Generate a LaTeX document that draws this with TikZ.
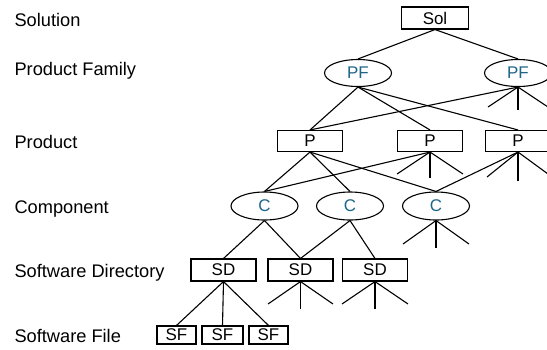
\documentclass[tikz,border=0pt]{standalone}
\usepackage{fontspec}
\setmainfont{Liberation Sans}
\usetikzlibrary{shapes.geometric}
\definecolor{pfblue}{RGB}{31,101,138}
\begin{document}
\begin{tikzpicture}[x=1bp,y=-1bp, line width=1.1bp,
  box/.style={draw, rectangle, minimum width=65bp, minimum height=22bp, inner sep=0pt, font=\fontsize{17}{19}\selectfont},
  ell/.style={draw, ellipse, minimum width=67bp, minimum height=27bp, inner sep=0pt, text=pfblue, font=\fontsize{17}{19}\selectfont},
  sfbox/.style={box, minimum width=40bp, minimum height=18bp},
  lbl/.style={anchor=base west, font=\fontsize{18.3}{20}\selectfont, inner sep=0pt}]
\fill[white] (0,0) rectangle (547,349);
\useasboundingbox (0,0) rectangle (547,349);
% level labels
\node[lbl] (l1) at (14,26) {Solution};
\node[lbl] (l2) at (14,75) {Product Family};
\node[lbl] (l3) at (14,148) {Product};
\node[lbl] (l4) at (14,213) {Component};
\node[lbl] (l5) at (14,277) {Software Directory};
\node[lbl] (l6) at (14,342) {Software File};
% nodes
\node[box, minimum width=67bp] (sol) at (435,18) {Sol};
\node[ell] (pf1) at (358,73) {PF};
\node[ell] (pf2) at (518,73) {PF};
\node[box, minimum height=21bp] (p1) at (310,141) {P};
\node[box, minimum height=21bp] (p2) at (430,141) {P};
\node[box, minimum height=21bp] (p3) at (518,141) {P};
\node[ell, minimum height=28bp] (c1) at (264.5,206) {C};
\node[ell, minimum height=28bp] (c2) at (350,206) {C};
\node[ell, minimum height=28bp] (c3) at (436,206) {C};
\node[box] (sd1) at (223.5,270) {SD};
\node[box] (sd2) at (300.5,270) {SD};
\node[box] (sd3) at (375,270) {SD};
\node[sfbox, minimum width=39bp] (sf1) at (176.5,335) {SF};
\node[sfbox, minimum width=41bp] (sf2) at (222.5,335) {SF};
\node[sfbox, minimum width=39bp] (sf3) at (268.5,335) {SF};
% stub ends
\coordinate (pf2a) at (488,107);
\coordinate (pf2b) at (518,110);
\coordinate (pf2c) at (548,107);
\coordinate (p2a) at (397,174);
\coordinate (p2b) at (430,178);
\coordinate (p2c) at (463,174);
\coordinate (p3a) at (487,177);
\coordinate (p3b) at (518,181);
\coordinate (p3c) at (548,174);
\coordinate (c3a) at (403,244);
\coordinate (c3b) at (436,248);
\coordinate (c3c) at (469,244);
\coordinate (sd2a) at (268,304);
\coordinate (sd2b) at (300.5,309);
\coordinate (sd2c) at (333,304);
\coordinate (sd3a) at (342,304);
\coordinate (sd3b) at (375,309);
\coordinate (sd3c) at (408,304);
% connectors
\draw (sol.south) -- (pf1.north);
\draw (sol.south) -- (pf2.north);
\draw (pf1.south) -- (p1.north);
\draw (pf1.south) -- (p2.north);
\draw (pf1.south) -- (p3.north);
\draw (pf2.south) -- (p1.north);
\draw (pf2.south) -- (pf2a);
\draw (pf2.south) -- (pf2b);
\draw (pf2.south) -- (pf2c);
\draw (p1.south) -- (c1.north);
\draw (p1.south) -- (c2.north);
\draw (p1.south) -- (c3.north);
\draw (p2.south) -- (c1.north);
\draw (p2.south) -- (p2a);
\draw (p2.south) -- (p2b);
\draw (p2.south) -- (p2c);
\draw (p3.south) -- (c3.north);
\draw (p3.south) -- (p3a);
\draw (p3.south) -- (p3b);
\draw (p3.south) -- (p3c);
\draw (c1.south) -- (sd1.north);
\draw (c1.south) -- (sd2.north);
\draw (c2.south) -- (sd2.north);
\draw (c2.south) -- (sd3.north);
\draw (c3.south) -- (c3a);
\draw (c3.south) -- (c3b);
\draw (c3.south) -- (c3c);
\draw (sd1.south) -- (sf1.north);
\draw (sd1.south) -- (sf2.north);
\draw (sd1.south) -- (sf3.north);
\draw (sd2.south) -- (sd2a);
\draw (sd2.south) -- (sd2b);
\draw (sd2.south) -- (sd2c);
\draw (sd3.south) -- (sd3a);
\draw (sd3.south) -- (sd3b);
\draw (sd3.south) -- (sd3c);
\end{tikzpicture}
\end{document}
